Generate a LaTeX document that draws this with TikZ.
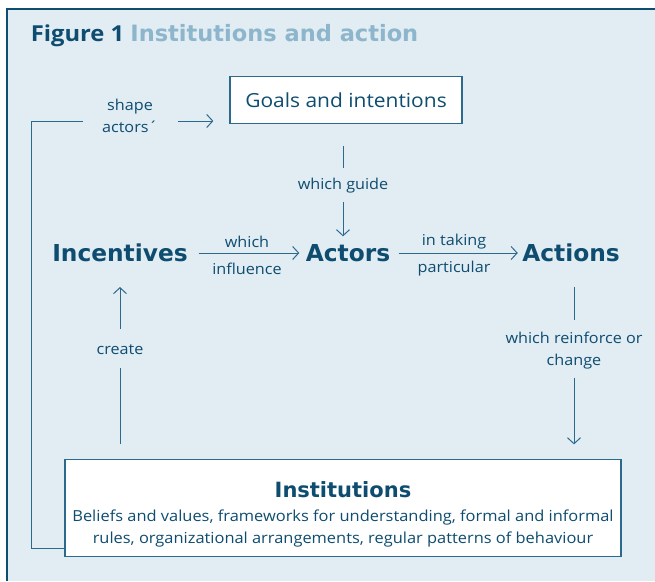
\documentclass[tikz,border=0pt]{standalone}
\usepackage{fontspec}
\setmainfont{Open Sans}[FakeStretch=1.08]
\newfontfamily\heavy{DejaVu Sans}
\usetikzlibrary{arrows.meta}
\definecolor{ink}{HTML}{0E4D70}
\definecolor{wire}{HTML}{2C6A8D}
\definecolor{pale}{HTML}{8DB6CC}
\definecolor{bgblue}{HTML}{E1ECF3}
\begin{document}
\begin{tikzpicture}[x=1pt,y=-1pt, every path/.style={wire,line width=1pt}, >={Straight Barb[length=6pt,width=13pt]},
  box/.style={draw=wire,fill=white,line width=1.2pt},
  lbl/.style={text=ink,font=\fontsize{15}{22}\selectfont,align=center,inner sep=2pt},
  big/.style={text=ink,font=\fontsize{23.3}{26}\selectfont\heavy\bfseries,inner sep=3pt}]
\useasboundingbox (0,0) rectangle (655,581);
\fill[bgblue] (7,9) rectangle (655,581);
\draw[line width=1.5pt,ink] (7,581) -- (7,9) -- (655,9);
\node[anchor=west,text=ink,font=\fontsize{22}{24}\selectfont\bfseries] (title) at (27,36) {Figure 1 \textcolor{pale}{\heavy\fontsize{22.5}{24}\selectfont Institutions and action}};
\node[box,minimum width=232pt,minimum height=47pt,text=ink,font=\fontsize{19.4}{22}\selectfont] (goals) at (346,100) {Goals and intentions};
\node[box,minimum width=556pt,minimum height=97pt,align=center,text=ink,font=\fontsize{15.2}{21.5}\selectfont] (inst) at (343,508) {{\heavy\bfseries\fontsize{21}{24}\selectfont\rule{0pt}{28pt}Institutions}\\[3pt]Beliefs and values, frameworks for understanding, formal and informal\\rules, organizational arrangements, regular patterns of behaviour};
\node[big] (inc) at (120,253) {Incentives};
\node[big] (act) at (348,253) {Actors};
\node[big] (acn) at (571,253) {Actions};
\node[lbl] (guide) at (343,186) {which guide};
\node[lbl] (which) at (247,242) {which};
\node[lbl] (influence) at (247,269) {influence};
\node[lbl] (taking) at (454,242) {in taking};
\node[lbl] (particular) at (454,269) {particular};
\node[lbl] (reinforce) at (574,351) {which reinforce or\\change};
\node[lbl] (create) at (120,350) {create};
\node[lbl] (shape) at (130,116) {shape\\actors´};
\coordinate (fb) at (31,121);
\draw[shorten <=21.5pt,shorten >=8.5pt] (goals.south -| guide) -- (guide);
\draw[->,shorten <=5.5pt,shorten >=4.5pt] (guide) -- (act.north -| guide);
\draw[->,shorten <=7.5pt,shorten >=3pt] (inc.east) -- (act.west);
\draw[->,shorten <=5pt,shorten >=1pt] (act.east) -- (acn.west);
\draw[shorten <=21.5pt,shorten >=9.5pt] (acn.south -| reinforce) -- (reinforce.north);
\draw[->,shorten <=5.5pt,shorten >=14.5pt] (reinforce.south) -- (inst.north -| reinforce);
\draw[shorten <=14.5pt,shorten >=10.5pt] (inst.north -| create) -- (create);
\draw[->,shorten <=13.5pt,shorten >=21.5pt] (create) -- (inc);
\draw[shorten >=17pt] ([yshift=9pt]inst.south west) -| (fb) -- (shape.west |- fb);
\draw[->,shorten <=18pt,shorten >=16pt] (shape.east |- fb) -- (goals.west |- fb);
\end{tikzpicture}
\end{document}
